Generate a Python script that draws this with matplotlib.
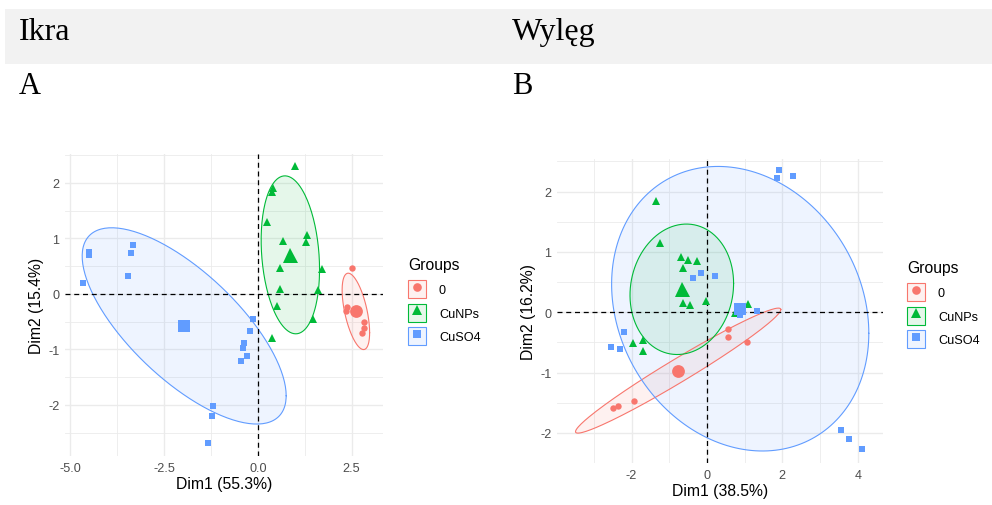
import numpy as np
import matplotlib
matplotlib.use("Agg")
from matplotlib import pyplot as plt
from matplotlib.lines import Line2D
from matplotlib.patches import Patch, Rectangle
from matplotlib.legend_handler import HandlerTuple

plt.rcParams["font.family"] = ["Liberation Sans", "DejaVu Sans"]

groups = ["0", "CuNPs", "CuSO4"]
colors = {"0": "#F8766D", "CuNPs": "#00BA38", "CuSO4": "#619CFF"}
markers = {"0": "o", "CuNPs": "^", "CuSO4": "s"}
msize = {"0": 4.6, "CuNPs": 5.4, "CuSO4": 4.3}

# Ikra (panel A) individual coordinates
ikra_0_x = [2.52, 2.38, 2.36, 2.84, 2.82, 2.78]
ikra_0_y = [0.46, -0.23, -0.31, -0.50, -0.61, -0.70]
ikra_np_x = [1.00, 0.41, 0.38, 0.25, 0.68, 1.32, 1.28, 0.58, 1.70, 0.60, 1.60, 0.51, 1.47, 0.39]
ikra_np_y = [2.30, 1.90, 1.83, 1.29, 0.95, 1.06, 0.94, 0.46, 0.44, 0.09, 0.07, -0.22, -0.46, -0.80]
ikra_so4_x = [-4.51, -4.51, -3.34, -3.37, -3.47, -4.65, -0.14, -0.20, -0.36, -0.40, -0.30, -0.45,
              -1.19, -1.22, -1.32]
ikra_so4_y = [0.75, 0.70, 0.88, 0.74, 0.32, 0.19, -0.46, -0.67, -0.89, -0.98, -1.12, -1.21,
              -2.02, -2.20, -2.68]

# Wylęg (panel B) individual coordinates
wyleg_0_x = [-2.50, -2.35, -1.93, 0.57, 0.56, 1.06]
wyleg_0_y = [-1.58, -1.56, -1.48, -0.28, -0.41, -0.50]
wyleg_np_x = [-1.36, -1.25, -0.69, -0.50, -0.27, -0.65, -0.65, -0.44, -0.02, 1.10, 0.75,
              -1.97, -1.70, -1.71]
wyleg_np_y = [1.84, 1.14, 0.91, 0.87, 0.85, 0.73, 0.15, 0.12, 0.19, 0.14, -0.01,
              -0.51, -0.46, -0.64]
wyleg_so4_x = [1.91, 1.85, 2.29, -0.15, -0.36, 0.22, 0.87, 1.33, -2.21, -2.54, -2.30,
               3.56, 3.76, 4.11]
wyleg_so4_y = [2.35, 2.23, 2.26, 0.65, 0.56, 0.60, -0.04, 0.02, -0.32, -0.57, -0.61,
               -1.95, -2.10, -2.27]

ikra = {"0": (ikra_0_x, ikra_0_y), "CuNPs": (ikra_np_x, ikra_np_y),
        "CuSO4": (ikra_so4_x, ikra_so4_y)}
wyleg = {"0": (wyleg_0_x, wyleg_0_y), "CuNPs": (wyleg_np_x, wyleg_np_y),
         "CuSO4": (wyleg_so4_x, wyleg_so4_y)}


def norm_ellipse(x, y, level=0.66, n_seg=200):
    """Normal-theory ellipse, same recipe as ggplot2 stat_ellipse(type='norm')."""
    pts = np.column_stack([x, y])
    n = len(pts)
    center = pts.mean(axis=0)
    cov = np.cov(pts, rowvar=False)
    d = n - 1
    # F(2, d) quantile has a closed form
    fq = (d / 2) * ((1 - level) ** (-2 / d) - 1)
    radius = np.sqrt(2 * fq)
    t = np.linspace(0, 2 * np.pi, n_seg)
    circle = np.column_stack([np.cos(t), np.sin(t)])
    chol = np.linalg.cholesky(cov).T
    return center + radius * circle @ chol


def pca_panel(ax, data, xlab, ylab, xlim, ylim, xticks, xticklabels, yticks):
    for g in groups:
        x, y = data[g]
        ell = norm_ellipse(x, y)
        ax.fill(ell[:, 0], ell[:, 1], facecolor=colors[g], alpha=0.1, zorder=1)
        ax.plot(ell[:, 0], ell[:, 1], color=colors[g], lw=0.8, zorder=1.5)
    ax.axhline(0, color="black", lw=0.9, ls=(0, (4, 3)), zorder=2)
    ax.axvline(0, color="black", lw=0.9, ls=(0, (4, 3)), zorder=2)
    for g in groups:
        x, y = data[g]
        ax.plot(x, y, ls="none", marker=markers[g], ms=msize[g], mew=0,
                color=colors[g], zorder=3)
        ax.plot(np.mean(x), np.mean(y), ls="none", marker=markers[g],
                ms=msize[g] * 2, mew=0, color=colors[g], zorder=3)
    ax.set_xticks(xticks)
    ax.set_xticklabels(xticklabels)
    ax.set_yticks(yticks)
    ax.set_yticklabels([str(v) for v in yticks])
    # minor grid halfway between majors, like ggplot
    xs = np.diff(xticks)[0]
    ys = np.diff(yticks)[0]
    xm = np.arange(xticks[0] - xs / 2, xlim[1], xs)
    ym = np.arange(yticks[0] - ys / 2, ylim[1], ys)
    ax.set_xticks(xm[(xm > xlim[0]) & (xm < xlim[1])], minor=True)
    ax.set_yticks(ym[(ym > ylim[0]) & (ym < ylim[1])], minor=True)
    ax.set_xlim(*xlim)
    ax.set_ylim(*ylim)
    ax.grid(which="major", color="#ebebeb", lw=1.0)
    ax.grid(which="minor", color="#ebebeb", lw=0.6)
    ax.set_axisbelow(True)
    ax.tick_params(which="both", length=0, labelsize=9.1, labelcolor="#4d4d4d", pad=4)
    for s in ax.spines.values():
        s.set_visible(False)
    ax.set_xlabel(xlab, fontsize=11.3, labelpad=2)
    ax.set_ylabel(ylab, fontsize=11.3, labelpad=3)


def group_legend(fig, x, y):
    handles = []
    for g in groups:
        box = Patch(facecolor=matplotlib.colors.to_rgba(colors[g], 0.1),
                    edgecolor=colors[g], lw=0.8)
        pt = Line2D([], [], ls="none", marker=markers[g], ms=msize[g] * 1.35,
                    mew=0, color=colors[g])
        handles.append((box, pt))
    leg = fig.legend(handles, groups, title="Groups", loc="upper left",
                     bbox_to_anchor=(x, y), bbox_transform=fig.transFigure,
                     frameon=False, fontsize=9.1, title_fontsize=11.3,
                     handler_map={tuple: HandlerTuple(ndivide=1, pad=0)},
                     handlelength=1.4, handleheight=1.8, labelspacing=0.45,
                     handletextpad=1.05, borderpad=0, borderaxespad=0,
                     alignment="left")
    leg._legend_box.sep = 6


fig = plt.figure(figsize=(9.92, 5.06), dpi=100)

# header strip
fig.patches.append(Rectangle((5 / 992, 1 - 65 / 506), 1, 55 / 506,
                             transform=fig.transFigure, facecolor="#f2f2f2",
                             edgecolor="none", zorder=0))
serif = ["Liberation Serif", "DejaVu Serif"]
fig.text(19 / 992, 1 - 40 / 506, "Ikra", family=serif, fontsize=23, va="baseline")
fig.text(512 / 992, 1 - 40 / 506, "Wylęg", family=serif, fontsize=23, va="baseline")
fig.text(19 / 992, 1 - 94 / 506, "A", family=serif, fontsize=22, va="baseline")
fig.text(512 / 992, 1 - 94 / 506, "B", family=serif, fontsize=22, va="baseline")

ax1 = fig.add_axes([65 / 992, 49 / 506, 318 / 992, 302 / 506])
pca_panel(ax1, ikra, "Dim1 (55.3%)", "Dim2 (15.4%)", (-5.14, 3.34), (-2.92, 2.52),
          [-5.0, -2.5, 0.0, 2.5], ["-5.0", "-2.5", "0.0", "2.5"], [-2, -1, 0, 1, 2])

ax2 = fig.add_axes([557 / 992, 42 / 506, 326 / 992, 304 / 506])
pca_panel(ax2, wyleg, "Dim1 (38.5%)", "Dim2 (16.2%)", (-3.98, 4.67), (-2.50, 2.54),
          [-2, 0, 2, 4], ["-2", "0", "2", "4"], [-2, -1, 0, 1, 2])

group_legend(fig, 408 / 992, 1 - 258 / 506)
group_legend(fig, 907 / 992, 1 - 261 / 506)

fig.savefig("out.png", dpi=100)
